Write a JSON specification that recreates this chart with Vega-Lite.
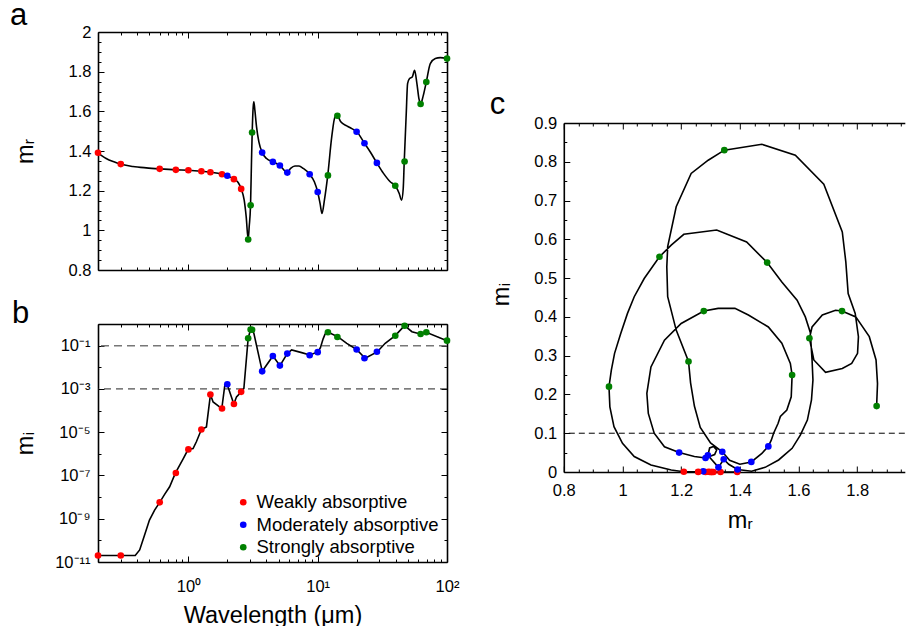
{
  "padding": {"left": 10, "top": 0, "right": 0, "bottom": 0},
  "background": "white",
  "config": {
    "view": {"stroke": null},
    "font": "Liberation Sans",
    "axis": {"domainColor": "black", "domainWidth": 1.6, "tickColor": "black", "tickWidth": 1, "labelColor": "black", "labelFont": "Liberation Sans", "labelFontSize": 16.5, "titleFont": "Liberation Sans", "titleFontSize": 23.5, "titleFontWeight": "normal", "titleColor": "black", "grid": false, "labelOverlap": false, "labelFlush": false, "labelBound": false},
    "title": {"font": "Liberation Sans", "fontWeight": "normal", "color": "black", "fontSize": 31}
  },
  "datasets": {
    "pts": [
      {"wl": 0.2, "mr": 1.391, "mi": 2e-11, "cls": "Weakly absorptive"},
      {"wl": 0.3, "mr": 1.334, "mi": 2e-11, "cls": "Weakly absorptive"},
      {"wl": 0.6, "mr": 1.310, "mi": 5.7e-9, "cls": "Weakly absorptive"},
      {"wl": 0.8, "mr": 1.305, "mi": 1.3e-7, "cls": "Weakly absorptive"},
      {"wl": 1.0, "mr": 1.303, "mi": 1.6e-6, "cls": "Weakly absorptive"},
      {"wl": 1.26, "mr": 1.298, "mi": 1.33e-5, "cls": "Weakly absorptive"},
      {"wl": 1.48, "mr": 1.293, "mi": 5.5e-4, "cls": "Weakly absorptive"},
      {"wl": 1.82, "mr": 1.283, "mi": 1.24e-4, "cls": "Weakly absorptive"},
      {"wl": 2.0, "mr": 1.275, "mi": 1.64e-3, "cls": "Moderately absorptive"},
      {"wl": 2.25, "mr": 1.258, "mi": 2.0e-4, "cls": "Weakly absorptive"},
      {"wl": 2.56, "mr": 1.209, "mi": 7.3e-4, "cls": "Weakly absorptive"},
      {"wl": 2.9, "mr": 0.954, "mi": 0.22, "cls": "Strongly absorptive"},
      {"wl": 3.03, "mr": 1.126, "mi": 0.555, "cls": "Strongly absorptive"},
      {"wl": 3.11, "mr": 1.493, "mi": 0.54, "cls": "Strongly absorptive"},
      {"wl": 3.72, "mr": 1.392, "mi": 0.0065, "cls": "Moderately absorptive"},
      {"wl": 4.5, "mr": 1.345, "mi": 0.033, "cls": "Moderately absorptive"},
      {"wl": 5.1, "mr": 1.327, "mi": 0.012, "cls": "Moderately absorptive"},
      {"wl": 5.82, "mr": 1.291, "mi": 0.043, "cls": "Moderately absorptive"},
      {"wl": 8.67, "mr": 1.283, "mi": 0.036, "cls": "Moderately absorptive"},
      {"wl": 10.0, "mr": 1.193, "mi": 0.05, "cls": "Moderately absorptive"},
      {"wl": 12.0, "mr": 1.277, "mi": 0.415, "cls": "Strongly absorptive"},
      {"wl": 14.2, "mr": 1.578, "mi": 0.25, "cls": "Strongly absorptive"},
      {"wl": 20.0, "mr": 1.497, "mi": 0.066, "cls": "Moderately absorptive"},
      {"wl": 23.0, "mr": 1.439, "mi": 0.026, "cls": "Moderately absorptive"},
      {"wl": 28.7, "mr": 1.340, "mi": 0.052, "cls": "Moderately absorptive"},
      {"wl": 39.8, "mr": 1.225, "mi": 0.285, "cls": "Strongly absorptive"},
      {"wl": 47.0, "mr": 1.347, "mi": 0.83, "cls": "Strongly absorptive"},
      {"wl": 62.5, "mr": 1.637, "mi": 0.345, "cls": "Strongly absorptive"},
      {"wl": 69.2, "mr": 1.748, "mi": 0.415, "cls": "Strongly absorptive"},
      {"wl": 100, "mr": 1.866, "mi": 0.17, "cls": "Strongly absorptive"}
    ],
    "lineA": [
      {"wl": 0.2, "mr": 1.391}, {"wl": 0.2313, "mr": 1.362}, {"wl": 0.2685, "mr": 1.344}, {"wl": 0.297, "mr": 1.334},
      {"wl": 0.3725, "mr": 1.322}, {"wl": 0.4725, "mr": 1.315}, {"wl": 0.596, "mr": 1.310}, {"wl": 0.798, "mr": 1.305},
      {"wl": 0.994, "mr": 1.303}, {"wl": 1.261, "mr": 1.298}, {"wl": 1.481, "mr": 1.293}, {"wl": 1.824, "mr": 1.283},
      {"wl": 1.994, "mr": 1.275}, {"wl": 2.246, "mr": 1.258}, {"wl": 2.427, "mr": 1.241}, {"wl": 2.561, "mr": 1.209},
      {"wl": 2.702, "mr": 1.152}, {"wl": 2.799, "mr": 1.069}, {"wl": 2.901, "mr": 0.954}, {"wl": 2.953, "mr": 1.018},
      {"wl": 3.024, "mr": 1.126}, {"wl": 3.078, "mr": 1.354}, {"wl": 3.115, "mr": 1.493}, {"wl": 3.171, "mr": 1.622},
      {"wl": 3.209, "mr": 1.648}, {"wl": 3.267, "mr": 1.606}, {"wl": 3.366, "mr": 1.522}, {"wl": 3.509, "mr": 1.446},
      {"wl": 3.725, "mr": 1.392}, {"wl": 4.024, "mr": 1.362}, {"wl": 4.506, "mr": 1.345}, {"wl": 5.105, "mr": 1.327},
      {"wl": 5.821, "mr": 1.292}, {"wl": 6.175, "mr": 1.312}, {"wl": 6.673, "mr": 1.324}, {"wl": 7.166, "mr": 1.324},
      {"wl": 7.744, "mr": 1.312}, {"wl": 8.67, "mr": 1.283}, {"wl": 9.423, "mr": 1.245}, {"wl": 10.0, "mr": 1.193},
      {"wl": 10.43, "mr": 1.136}, {"wl": 10.80, "mr": 1.085}, {"wl": 11.27, "mr": 1.152}, {"wl": 11.96, "mr": 1.277},
      {"wl": 12.84, "mr": 1.471}, {"wl": 13.63, "mr": 1.572}, {"wl": 14.21, "mr": 1.577}, {"wl": 15.08, "mr": 1.547},
      {"wl": 16.78, "mr": 1.527}, {"wl": 18.35, "mr": 1.513}, {"wl": 20.06, "mr": 1.497}, {"wl": 23.0, "mr": 1.439},
      {"wl": 25.45, "mr": 1.396}, {"wl": 28.67, "mr": 1.340}, {"wl": 32.28, "mr": 1.287}, {"wl": 36.37, "mr": 1.245},
      {"wl": 39.78, "mr": 1.225}, {"wl": 42.71, "mr": 1.186}, {"wl": 44.53, "mr": 1.152}, {"wl": 45.87, "mr": 1.211},
      {"wl": 46.70, "mr": 1.347}, {"wl": 48.40, "mr": 1.589}, {"wl": 49.56, "mr": 1.740}, {"wl": 51.36, "mr": 1.765},
      {"wl": 53.86, "mr": 1.773}, {"wl": 56.15, "mr": 1.807}, {"wl": 58.53, "mr": 1.740}, {"wl": 60.66, "mr": 1.664},
      {"wl": 62.5, "mr": 1.637}, {"wl": 65.16, "mr": 1.673}, {"wl": 69.17, "mr": 1.748}, {"wl": 74.28, "mr": 1.841},
      {"wl": 81.22, "mr": 1.866}, {"wl": 88.8, "mr": 1.871}, {"wl": 100, "mr": 1.866}
    ],
    "lineB": [
      {"wl": 0.2, "mi": 2e-11}, {"wl": 0.297, "mi": 2e-11}, {"wl": 0.388, "mi": 2e-11}, {"wl": 0.42, "mi": 3.6e-11},
      {"wl": 0.4585, "mi": 1.76e-10}, {"wl": 0.5, "mi": 8.7e-10}, {"wl": 0.548, "mi": 2.5e-9}, {"wl": 0.6, "mi": 5.7e-9},
      {"wl": 0.655, "mi": 1.33e-8}, {"wl": 0.716, "mi": 3.0e-8}, {"wl": 0.793, "mi": 1.28e-7}, {"wl": 0.857, "mi": 3.0e-7},
      {"wl": 0.909, "mi": 5.7e-7}, {"wl": 0.994, "mi": 1.58e-6}, {"wl": 1.087, "mi": 1.76e-6}, {"wl": 1.153, "mi": 3.6e-6},
      {"wl": 1.261, "mi": 1.33e-5}, {"wl": 1.379, "mi": 1.76e-5}, {"wl": 1.481, "mi": 5.5e-4}, {"wl": 1.553, "mi": 2.5e-4},
      {"wl": 1.813, "mi": 1.24e-4}, {"wl": 1.913, "mi": 1.48e-3}, {"wl": 1.994, "mi": 1.64e-3}, {"wl": 2.246, "mi": 2.0e-4},
      {"wl": 2.356, "mi": 4.3e-4}, {"wl": 2.561, "mi": 7.3e-4}, {"wl": 2.686, "mi": 1.04e-3}, {"wl": 2.901, "mi": 0.226},
      {"wl": 3.03, "mi": 0.555}, {"wl": 3.11, "mi": 0.54}, {"wl": 3.209, "mi": 0.371}, {"wl": 3.725, "mi": 0.0065},
      {"wl": 4.506, "mi": 0.0333}, {"wl": 5.105, "mi": 0.0119}, {"wl": 5.821, "mi": 0.0428}, {"wl": 6.286, "mi": 0.063},
      {"wl": 7.516, "mi": 0.0475}, {"wl": 8.67, "mi": 0.037}, {"wl": 10.06, "mi": 0.051}, {"wl": 10.5, "mi": 0.08},
      {"wl": 11.0, "mi": 0.2}, {"wl": 11.4, "mi": 0.34}, {"wl": 12.1, "mi": 0.412}, {"wl": 14.29, "mi": 0.26},
      {"wl": 16.78, "mi": 0.128}, {"wl": 20.06, "mi": 0.065}, {"wl": 23.28, "mi": 0.026}, {"wl": 28.84, "mi": 0.051},
      {"wl": 33.27, "mi": 0.128}, {"wl": 39.78, "mi": 0.29}, {"wl": 46.97, "mi": 0.837}, {"wl": 53.54, "mi": 0.443},
      {"wl": 62.13, "mi": 0.345}, {"wl": 69.17, "mi": 0.412}, {"wl": 100, "mi": 0.17}
    ],
    "lineC": [
      {"seq": 1, "mr": 1.391, "mi": 0}, {"seq": 2, "mr": 1.334, "mi": 0}, {"seq": 3, "mr": 1.310, "mi": 0}, {"seq": 4, "mr": 1.305, "mi": 0},
      {"seq": 5, "mr": 1.303, "mi": 0}, {"seq": 6, "mr": 1.298, "mi": 0}, {"seq": 7, "mr": 1.293, "mi": 0.0005}, {"seq": 8, "mr": 1.283, "mi": 0.0001},
      {"seq": 9, "mr": 1.275, "mi": 0.0016}, {"seq": 10, "mr": 1.258, "mi": 0.0002}, {"seq": 11, "mr": 1.209, "mi": 0.0007}, {"seq": 12, "mr": 1.166, "mi": 0.005},
      {"seq": 13, "mr": 1.097, "mi": 0.018}, {"seq": 14, "mr": 1.040, "mi": 0.040}, {"seq": 15, "mr": 1.000, "mi": 0.074}, {"seq": 16, "mr": 0.971, "mi": 0.117},
      {"seq": 17, "mr": 0.957, "mi": 0.168}, {"seq": 18, "mr": 0.954, "mi": 0.220}, {"seq": 19, "mr": 0.962, "mi": 0.263}, {"seq": 20, "mr": 0.973, "mi": 0.306},
      {"seq": 21, "mr": 0.994, "mi": 0.357}, {"seq": 22, "mr": 1.017, "mi": 0.409}, {"seq": 23, "mr": 1.040, "mi": 0.452}, {"seq": 24, "mr": 1.074, "mi": 0.499},
      {"seq": 25, "mr": 1.126, "mi": 0.555}, {"seq": 26, "mr": 1.166, "mi": 0.585}, {"seq": 27, "mr": 1.209, "mi": 0.613}, {"seq": 28, "mr": 1.321, "mi": 0.624},
      {"seq": 29, "mr": 1.423, "mi": 0.593}, {"seq": 30, "mr": 1.493, "mi": 0.540}, {"seq": 31, "mr": 1.543, "mi": 0.490}, {"seq": 32, "mr": 1.595, "mi": 0.443},
      {"seq": 33, "mr": 1.623, "mi": 0.400}, {"seq": 34, "mr": 1.640, "mi": 0.360}, {"seq": 35, "mr": 1.646, "mi": 0.289}, {"seq": 36, "mr": 1.649, "mi": 0.237},
      {"seq": 37, "mr": 1.644, "mi": 0.186}, {"seq": 38, "mr": 1.630, "mi": 0.134}, {"seq": 39, "mr": 1.606, "mi": 0.095}, {"seq": 40, "mr": 1.578, "mi": 0.061},
      {"seq": 41, "mr": 1.532, "mi": 0.031}, {"seq": 42, "mr": 1.486, "mi": 0.012}, {"seq": 43, "mr": 1.440, "mi": 0.002}, {"seq": 44, "mr": 1.392, "mi": 0.0065},
      {"seq": 45, "mr": 1.362, "mi": 0.020}, {"seq": 46, "mr": 1.345, "mi": 0.033}, {"seq": 47, "mr": 1.327, "mi": 0.012}, {"seq": 48, "mr": 1.291, "mi": 0.043},
      {"seq": 49, "mr": 1.297, "mi": 0.062}, {"seq": 50, "mr": 1.310, "mi": 0.066}, {"seq": 51, "mr": 1.321, "mi": 0.057}, {"seq": 52, "mr": 1.314, "mi": 0.045},
      {"seq": 53, "mr": 1.283, "mi": 0.036}, {"seq": 54, "mr": 1.245, "mi": 0.040}, {"seq": 55, "mr": 1.193, "mi": 0.050}, {"seq": 56, "mr": 1.143, "mi": 0.065},
      {"seq": 57, "mr": 1.108, "mi": 0.100}, {"seq": 58, "mr": 1.088, "mi": 0.151}, {"seq": 59, "mr": 1.083, "mi": 0.203}, {"seq": 60, "mr": 1.097, "mi": 0.271},
      {"seq": 61, "mr": 1.143, "mi": 0.340}, {"seq": 62, "mr": 1.200, "mi": 0.383}, {"seq": 63, "mr": 1.277, "mi": 0.415}, {"seq": 64, "mr": 1.326, "mi": 0.422},
      {"seq": 65, "mr": 1.383, "mi": 0.422}, {"seq": 66, "mr": 1.429, "mi": 0.405}, {"seq": 67, "mr": 1.497, "mi": 0.374}, {"seq": 68, "mr": 1.543, "mi": 0.332},
      {"seq": 69, "mr": 1.572, "mi": 0.280}, {"seq": 70, "mr": 1.578, "mi": 0.250}, {"seq": 71, "mr": 1.575, "mi": 0.194}, {"seq": 72, "mr": 1.560, "mi": 0.160},
      {"seq": 73, "mr": 1.538, "mi": 0.143}, {"seq": 74, "mr": 1.530, "mi": 0.125}, {"seq": 75, "mr": 1.515, "mi": 0.100}, {"seq": 76, "mr": 1.507, "mi": 0.082},
      {"seq": 77, "mr": 1.497, "mi": 0.066}, {"seq": 78, "mr": 1.475, "mi": 0.048}, {"seq": 79, "mr": 1.439, "mi": 0.026}, {"seq": 80, "mr": 1.400, "mi": 0.020},
      {"seq": 81, "mr": 1.365, "mi": 0.030}, {"seq": 82, "mr": 1.340, "mi": 0.052}, {"seq": 83, "mr": 1.300, "mi": 0.075}, {"seq": 84, "mr": 1.265, "mi": 0.115},
      {"seq": 85, "mr": 1.245, "mi": 0.170}, {"seq": 86, "mr": 1.232, "mi": 0.230}, {"seq": 87, "mr": 1.225, "mi": 0.285}, {"seq": 88, "mr": 1.183, "mi": 0.366},
      {"seq": 89, "mr": 1.154, "mi": 0.452}, {"seq": 90, "mr": 1.151, "mi": 0.529}, {"seq": 91, "mr": 1.154, "mi": 0.581}, {"seq": 92, "mr": 1.183, "mi": 0.684},
      {"seq": 93, "mr": 1.234, "mi": 0.770}, {"seq": 94, "mr": 1.292, "mi": 0.804}, {"seq": 95, "mr": 1.347, "mi": 0.830}, {"seq": 96, "mr": 1.475, "mi": 0.845},
      {"seq": 97, "mr": 1.589, "mi": 0.817}, {"seq": 98, "mr": 1.686, "mi": 0.742}, {"seq": 99, "mr": 1.749, "mi": 0.619}, {"seq": 100, "mr": 1.761, "mi": 0.542},
      {"seq": 101, "mr": 1.769, "mi": 0.460}, {"seq": 102, "mr": 1.793, "mi": 0.409}, {"seq": 103, "mr": 1.804, "mi": 0.349}, {"seq": 104, "mr": 1.801, "mi": 0.306},
      {"seq": 105, "mr": 1.781, "mi": 0.280}, {"seq": 106, "mr": 1.749, "mi": 0.267}, {"seq": 107, "mr": 1.692, "mi": 0.257}, {"seq": 108, "mr": 1.652, "mi": 0.289},
      {"seq": 109, "mr": 1.637, "mi": 0.345}, {"seq": 110, "mr": 1.646, "mi": 0.374}, {"seq": 111, "mr": 1.681, "mi": 0.405}, {"seq": 112, "mr": 1.726, "mi": 0.417},
      {"seq": 113, "mr": 1.748, "mi": 0.415}, {"seq": 114, "mr": 1.795, "mi": 0.400}, {"seq": 115, "mr": 1.841, "mi": 0.349}, {"seq": 116, "mr": 1.864, "mi": 0.289},
      {"seq": 117, "mr": 1.869, "mi": 0.228}, {"seq": 118, "mr": 1.866, "mi": 0.170}
    ]
  },
  "resolve": {"scale": {"color": "independent"}},
  "bounds": "flush",
  "spacing": 465.8,
  "hconcat": [
    {
      "bounds": "flush",
      "spacing": 54,
      "resolve": {"scale": {"color": "independent"}},
      "vconcat": [
        {
          "width": 349, "height": 238,
          "title": {"text": "a", "anchor": "start", "frame": "group", "dx": -88, "offset": 5, "dy": 37.2, "baseline": "alphabetic", "fontSize": 31},
          "layer": [
            {"data": {"name": "lineA"}, "mark": {"type": "line", "color": "black", "strokeWidth": 1.6, "interpolate": "monotone"},
             "encoding": {
               "x": {"field": "wl", "type": "quantitative", "scale": {"type": "log", "domain": [0.2, 100], "nice": false},
                     "axis": {"orient": "bottom", "values": [0.2,0.3,0.4,0.5,0.6,0.7,0.8,0.9,1,2,3,4,5,6,7,8,9,10,20,30,40,50,60,70,80,90,100], "labels": false, "title": null,
                              "tickSize": {"condition": {"test": "abs(log(datum.value)/LN10 - round(log(datum.value)/LN10)) < 0.001", "value": -6}, "value": -3}}},
               "y": {"field": "mr", "type": "quantitative", "scale": {"domain": [0.8, 2], "nice": false},
                     "axis": {"orient": "left", "values": [0.8,0.85,0.9,0.95,1,1.05,1.1,1.15,1.2,1.25,1.3,1.35,1.4,1.45,1.5,1.55,1.6,1.65,1.7,1.75,1.8,1.85,1.9,1.95,2],
                              "labelExpr": "abs(datum.value*5 - round(datum.value*5)) < 0.001 ? (abs(datum.value - round(datum.value)) < 0.001 ? format(datum.value, 'd') : format(datum.value, '.1f')) : ''",
                              "tickSize": {"condition": {"test": "abs(datum.value*5 - round(datum.value*5)) < 0.001", "value": -6}, "value": -3},
                              "labelPadding": 13, "title": "mᵣ", "titleX": -66, "titleBaseline": "alphabetic"}}
             }},
            {"data": {"name": "pts"}, "mark": {"type": "circle", "size": 44, "opacity": 1},
             "encoding": {
               "x": {"field": "wl", "type": "quantitative", "scale": {"type": "log"}, "axis": null},
               "y": {"field": "mr", "type": "quantitative", "axis": null},
               "color": {"field": "cls", "type": "nominal", "scale": {"domain": ["Weakly absorptive", "Moderately absorptive", "Strongly absorptive"], "range": ["#ff0000", "#0000ff", "#008000"]}, "legend": null}
             }},
            {"data": {"name": "pts"}, "mark": {"type": "point", "opacity": 0},
             "encoding": {
               "x": {"field": "wl", "type": "quantitative", "scale": {"type": "log"},
                     "axis": {"orient": "top", "values": [0.2,0.3,0.4,0.5,0.6,0.7,0.8,0.9,1,2,3,4,5,6,7,8,9,10,20,30,40,50,60,70,80,90,100], "labels": false, "title": null,
                              "tickSize": {"condition": {"test": "abs(log(datum.value)/LN10 - round(log(datum.value)/LN10)) < 0.001", "value": -6}, "value": -3}}},
               "y": {"field": "mr", "type": "quantitative",
                     "axis": {"orient": "right", "values": [0.8,0.85,0.9,0.95,1,1.05,1.1,1.15,1.2,1.25,1.3,1.35,1.4,1.45,1.5,1.55,1.6,1.65,1.7,1.75,1.8,1.85,1.9,1.95,2], "labels": false, "title": null,
                              "tickSize": {"condition": {"test": "abs(datum.value*5 - round(datum.value*5)) < 0.001", "value": -6}, "value": -3}}}
             }}
          ],
          "resolve": {"axis": {"x": "independent", "y": "independent"}}
        },
        {
          "width": 349, "height": 238,
          "title": {"text": "b", "anchor": "start", "frame": "group", "dx": -86, "offset": 0, "dy": 37.8, "baseline": "alphabetic", "fontSize": 31},
          "layer": [
            {"data": {"values": [{"v": 0.1}]}, "mark": {"type": "rule", "color": "#777777", "strokeWidth": 1.5, "strokeDash": [8, 5]},
             "encoding": {"y": {"field": "v", "type": "quantitative", "scale": {"type": "log"}, "axis": null}}},
            {"data": {"values": [{"v": 0.001}]}, "mark": {"type": "rule", "color": "#222222", "strokeWidth": 1, "strokeDash": [7, 5]},
             "encoding": {"y": {"field": "v", "type": "quantitative", "scale": {"type": "log"}, "axis": null}}},
            {"data": {"name": "lineB"}, "mark": {"type": "line", "color": "black", "strokeWidth": 1.6},
             "encoding": {
               "x": {"field": "wl", "type": "quantitative", "scale": {"type": "log", "domain": [0.2, 100], "nice": false},
                     "axis": {"orient": "bottom", "values": [0.2,0.3,0.4,0.5,0.6,0.7,0.8,0.9,1,2,3,4,5,6,7,8,9,10,20,30,40,50,60,70,80,90,100],
                              "labelExpr": "datum.value == 1 ? '10⁰' : datum.value == 10 ? '10¹' : datum.value == 100 ? '10²' : ''",
                              "labelBaseline": "alphabetic", "labelPadding": 35,
                              "tickSize": {"condition": {"test": "abs(log(datum.value)/LN10 - round(log(datum.value)/LN10)) < 0.001", "value": -6}, "value": -3},
                              "title": "Wavelength (μm)", "titleY": 60, "titleBaseline": "alphabetic"}},
               "y": {"field": "mi", "type": "quantitative", "scale": {"type": "log", "domain": [1e-11, 1], "nice": false},
                     "axis": {"orient": "left", "values": [1e-11,1e-10,1e-9,1e-8,1e-7,1e-6,1e-5,1e-4,1e-3,1e-2,1e-1,1],
                              "labelExpr": "round(log(datum.value)/LN10) == -1 ? '10⁻¹' : round(log(datum.value)/LN10) == -3 ? '10⁻³' : round(log(datum.value)/LN10) == -5 ? '10⁻⁵' : round(log(datum.value)/LN10) == -7 ? '10⁻⁷' : round(log(datum.value)/LN10) == -9 ? '10⁻⁹' : round(log(datum.value)/LN10) == -11 ? '10⁻¹¹' : ''",
                              "tickSize": {"condition": {"test": "round(log(datum.value)/LN10) % 2 != 0", "value": -6}, "value": -3},
                              "labelPadding": 14, "title": "mᵢ", "titleX": -66, "titleBaseline": "alphabetic"}}
             }},
            {"data": {"name": "pts"}, "mark": {"type": "circle", "size": 44, "opacity": 1},
             "encoding": {
               "x": {"field": "wl", "type": "quantitative", "scale": {"type": "log"}, "axis": null},
               "y": {"field": "mi", "type": "quantitative", "scale": {"type": "log"}, "axis": null},
               "color": {"field": "cls", "type": "nominal", "scale": {"domain": ["Weakly absorptive", "Moderately absorptive", "Strongly absorptive"], "range": ["#ff0000", "#0000ff", "#008000"]},
                         "legend": {"orient": "none", "legendX": 136, "legendY": 169, "title": null, "labelFontSize": 18.5, "labelFont": "Liberation Sans", "labelColor": "black", "labelLimit": 0, "symbolType": "circle", "symbolSize": 44, "symbolStrokeWidth": 0, "labelOffset": 4, "rowPadding": 3.5, "padding": 0, "symbolOpacity": 1}}
             }},
            {"data": {"name": "pts"}, "mark": {"type": "point", "opacity": 0},
             "encoding": {
               "x": {"field": "wl", "type": "quantitative", "scale": {"type": "log"},
                     "axis": {"orient": "top", "values": [0.2,0.3,0.4,0.5,0.6,0.7,0.8,0.9,1,2,3,4,5,6,7,8,9,10,20,30,40,50,60,70,80,90,100], "labels": false, "title": null,
                              "tickSize": {"condition": {"test": "abs(log(datum.value)/LN10 - round(log(datum.value)/LN10)) < 0.001", "value": -6}, "value": -3}}},
               "y": {"field": "mi", "type": "quantitative", "scale": {"type": "log"},
                     "axis": {"orient": "right", "values": [1e-11,1e-10,1e-9,1e-8,1e-7,1e-6,1e-5,1e-4,1e-3,1e-2,1e-1,1], "labels": false, "title": null,
                              "tickSize": {"condition": {"test": "round(log(datum.value)/LN10) % 2 != 0", "value": -6}, "value": -3}}}
             }}
          ],
          "resolve": {"axis": {"x": "independent", "y": "independent"}}
        }
      ]
    },
    {
      "bounds": "flush",
      "spacing": 10,
      "resolve": {"scale": {"color": "independent"}},
      "vconcat": [
        {"width": 10, "height": 81, "data": {"values": [{"k": 1}]}, "mark": {"type": "point", "opacity": 0}, "encoding": {}},
        {
          "width": 341, "height": 349,
          "title": {"text": "c", "anchor": "start", "frame": "group", "dx": -74, "offset": 7.7, "dy": 37.2, "baseline": "alphabetic", "fontSize": 31},
          "layer": [
            {"data": {"values": [{"v": 0.1}]}, "mark": {"type": "rule", "color": "black", "strokeWidth": 1, "strokeDash": [6, 4]},
             "encoding": {"y": {"field": "v", "type": "quantitative", "axis": null}}},
            {"data": {"name": "lineC"}, "mark": {"type": "line", "color": "black", "strokeWidth": 1.6},
             "encoding": {
               "order": {"field": "seq", "type": "quantitative"},
               "x": {"field": "mr", "type": "quantitative", "scale": {"domain": [0.8, 1.962], "nice": false, "zero": false},
                     "axis": {"orient": "bottom", "values": [0.8,0.85,0.9,0.95,1,1.05,1.1,1.15,1.2,1.25,1.3,1.35,1.4,1.45,1.5,1.55,1.6,1.65,1.7,1.75,1.8,1.85,1.9,1.95],
                              "labelExpr": "abs(datum.value*5 - round(datum.value*5)) < 0.001 ? (abs(datum.value - round(datum.value)) < 0.001 ? format(datum.value, 'd') : format(datum.value, '.1f')) : ''",
                              "labelBaseline": "alphabetic", "labelPadding": 29,
                              "tickSize": {"condition": {"test": "abs(datum.value*5 - round(datum.value*5)) < 0.001", "value": -6}, "value": -3},
                              "title": "mᵣ", "titleX": 176, "titleY": 55, "titleBaseline": "alphabetic"}},
               "y": {"field": "mi", "type": "quantitative", "scale": {"domain": [0, 0.9], "nice": false},
                     "axis": {"orient": "left", "values": [0,0.05,0.1,0.15,0.2,0.25,0.3,0.35,0.4,0.45,0.5,0.55,0.6,0.65,0.7,0.75,0.8,0.85,0.9],
                              "labelExpr": "abs(datum.value*10 - round(datum.value*10)) < 0.001 ? (datum.value == 0 ? '0' : format(datum.value, '.1f')) : ''",
                              "tickSize": {"condition": {"test": "abs(datum.value*10 - round(datum.value*10)) < 0.001", "value": -6}, "value": -3},
                              "labelPadding": 13, "title": "mᵢ", "titleX": -55.5, "titleY": 171, "titleBaseline": "alphabetic"}}
             }},
            {"data": {"name": "pts"}, "mark": {"type": "circle", "size": 44, "opacity": 1},
             "encoding": {
               "x": {"field": "mr", "type": "quantitative", "axis": null},
               "y": {"field": "mi", "type": "quantitative", "axis": null},
               "color": {"field": "cls", "type": "nominal", "scale": {"domain": ["Weakly absorptive", "Moderately absorptive", "Strongly absorptive"], "range": ["#ff0000", "#0000ff", "#008000"]}, "legend": null}
             }},
            {"data": {"name": "pts"}, "mark": {"type": "point", "opacity": 0},
             "encoding": {
               "x": {"field": "mr", "type": "quantitative",
                     "axis": {"orient": "top", "values": [0.8,0.85,0.9,0.95,1,1.05,1.1,1.15,1.2,1.25,1.3,1.35,1.4,1.45,1.5,1.55,1.6,1.65,1.7,1.75,1.8,1.85,1.9,1.95], "labels": false, "title": null,
                              "tickSize": {"condition": {"test": "abs(datum.value*5 - round(datum.value*5)) < 0.001", "value": -6}, "value": -3}}},
               "y": {"field": "mi", "type": "quantitative", "axis": null}
             }}
          ],
          "resolve": {"axis": {"x": "independent", "y": "independent"}}
        }
      ]
    }
  ]
}
